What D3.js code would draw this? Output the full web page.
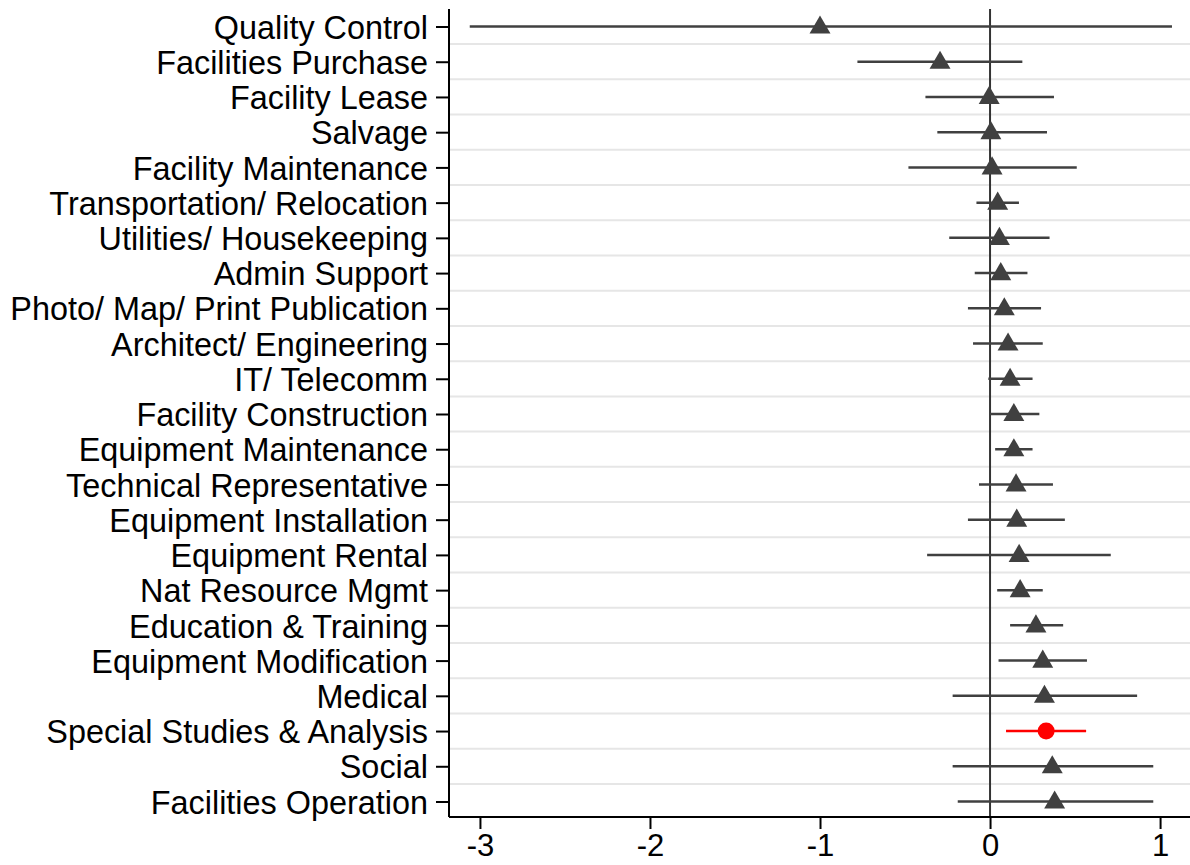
<!DOCTYPE html>
<html>
<head>
<meta charset="UTF-8" />
<script src="https://cdn.jsdelivr.net/npm/d3@7"></script>
<style>
  body { margin: 0; background: white; }
  svg text { font-family: "Liberation Sans", Arial, Helvetica, sans-serif; fill: #000; }
</style>
</head>
<body>
<div id="chart"></div>
<script>
// categories, top to bottom
const categories = [
  "Quality Control", "Facilities Purchase", "Facility Lease", "Salvage",
  "Facility Maintenance", "Transportation/ Relocation", "Utilities/ Housekeeping",
  "Admin Support", "Photo/ Map/ Print Publication", "Architect/ Engineering",
  "IT/ Telecomm", "Facility Construction", "Equipment Maintenance",
  "Technical Representative", "Equipment Installation", "Equipment Rental",
  "Nat Resource Mgmt", "Education & Training", "Equipment Modification",
  "Medical", "Special Studies & Analysis", "Social", "Facilities Operation"
];
const estimates = [-1.0, -0.294, -0.005, 0.005, 0.012, 0.045, 0.055, 0.063, 0.084, 0.106,
  0.118, 0.14, 0.14, 0.153, 0.157, 0.171, 0.177, 0.27, 0.31, 0.32, 0.33, 0.366, 0.38];
const lower = [-3.06, -0.78, -0.38, -0.31, -0.48, -0.08, -0.24, -0.09, -0.13, -0.10,
  -0.01, 0.0, 0.03, -0.065, -0.13, -0.37, 0.042, 0.118, 0.05, -0.22, 0.094, -0.22, -0.19];
const upper = [1.07, 0.19, 0.376, 0.335, 0.51, 0.17, 0.35, 0.22, 0.30, 0.31,
  0.25, 0.29, 0.25, 0.37, 0.44, 0.71, 0.31, 0.43, 0.57, 0.865, 0.565, 0.96, 0.96];
const highlight = "Special Studies & Analysis";
const xTicks = [-3, -2, -1, 0, 1];

const w = 1190, h = 865;
const plotLeft = 449, plotRight = 1190, plotTop = 9, plotBottom = 817;

const data = categories.map((c, i) => ({ cat: c, est: estimates[i], lo: lower[i], hi: upper[i] }));

const xScale = d3.scaleLinear().domain([-3.182, 1.176]).range([plotLeft, plotRight]);
const yScale = d3.scalePoint().domain(categories).range([26.5, 801.5]);

const svg = d3.select("#chart").append("svg").attr("width", w).attr("height", h);

// gridlines between rows
const mids = d3.pairs(categories).map(p => (yScale(p[0]) + yScale(p[1])) / 2);
svg.append("g").selectAll("line").data(mids).enter().append("line")
  .attr("x1", plotLeft).attr("x2", plotRight).attr("y1", d => d).attr("y2", d => d)
  .attr("stroke", "#e6e6e6").attr("stroke-width", 2);

// zero reference line
svg.append("line")
  .attr("x1", xScale(0)).attr("x2", xScale(0)).attr("y1", plotTop).attr("y2", plotBottom)
  .attr("stroke", "#333").attr("stroke-width", 2);

// confidence intervals
svg.append("g").selectAll("line").data(data).enter().append("line")
  .attr("x1", d => xScale(d.lo)).attr("x2", d => xScale(d.hi))
  .attr("y1", d => yScale(d.cat)).attr("y2", d => yScale(d.cat))
  .attr("stroke", d => d.cat === highlight ? "#ff0000" : "#404040")
  .attr("stroke-width", 2.5);

// markers
const tri = d3.symbol().type(d3.symbolTriangle).size(190);
svg.append("g").selectAll("path").data(data.filter(d => d.cat !== highlight)).enter().append("path")
  .attr("d", tri)
  .attr("transform", d => "translate(" + xScale(d.est) + "," + (yScale(d.cat) + 1) + ")")
  .attr("fill", "#404040");
svg.append("g").selectAll("circle").data(data.filter(d => d.cat === highlight)).enter().append("circle")
  .attr("cx", d => xScale(d.est)).attr("cy", d => yScale(d.cat))
  .attr("r", 8.5).attr("fill", "#ff0000");

// axes
const yAxis = d3.axisLeft(yScale).tickSize(13).tickPadding(8);
const gy = svg.append("g").attr("transform", "translate(" + plotLeft + ",0)").call(yAxis);
gy.select(".domain").attr("d", "M0," + plotTop + "V" + plotBottom);
gy.selectAll("line").attr("stroke-width", 2);
gy.selectAll(".domain").attr("stroke-width", 2);
gy.selectAll("text").style("font-size", "32.4px").attr("dy", "0.36em");

const xAxis = d3.axisBottom(xScale).tickValues(xTicks).tickFormat(d3.format("d")).tickSize(12).tickPadding(5);
const gx = svg.append("g").attr("transform", "translate(0," + plotBottom + ")").call(xAxis);
gx.select(".domain").attr("d", "M" + plotLeft + ",0H" + plotRight);
gx.selectAll("line").attr("stroke-width", 2);
gx.selectAll(".domain").attr("stroke-width", 2);
gx.selectAll("text").style("font-size", "31px").text(d => d < 0 ? "-" + Math.abs(d) : d);
</script>
</body>
</html>
